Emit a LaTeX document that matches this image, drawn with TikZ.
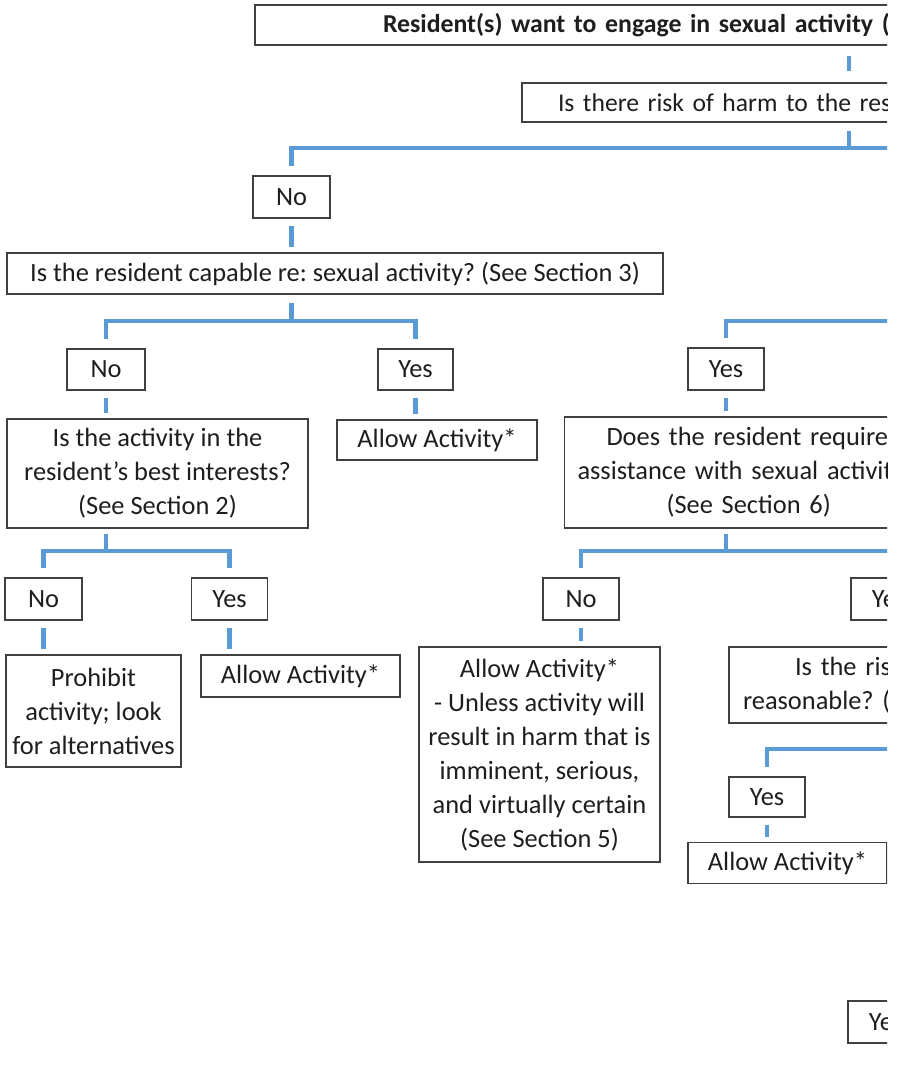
\documentclass[tikz,border=0pt]{standalone}
\usepackage{fontspec}
\setmainfont{Carlito}
\usetikzlibrary{calc}
\definecolor{linkblue}{RGB}{91,155,213}
\definecolor{boxgray}{RGB}{64,64,64}
\definecolor{inkgray}{RGB}{30,30,30}

\begin{document}
\begin{tikzpicture}[x=0.5pt, y=-0.5pt,
    box/.style={draw=boxgray, line width=0.65pt, fill=white, text=inkgray,
      font=\fontsize{13.2}{17}\selectfont\frenchspacing, align=center, inner sep=0pt,
      minimum height=20.5pt},
    cutbox/.style={box, align=left},
    link/.style={draw=linkblue, line width=2.25pt},
    stub/.style={link, shorten <=3.5pt, shorten >=2.5pt}]
    \useasboundingbox (0,0) rectangle (898,1078);
    \begin{scope}
    \clip (0,0) rectangle (887,1078);
    % question chain
    \node[cutbox, text width=594pt, minimum height=20pt,
      font=\fontsize{12.9}{17}\selectfont\frenchspacing\bfseries] (top) at (849,25)
      {\hspace*{64pt}Resident(s) want to engage in sexual activity (};
    \node[cutbox, text width=327pt, minimum height=19.5pt,
      font=\fontsize{12.8}{17}\selectfont\frenchspacing] (risk) at (849,102.5)
      {\hspace*{18pt}Is there risk of harm to the res};
    \node[box, minimum width=38.5pt, minimum height=21pt] (no1) at (291.5,197) {No};
    \node[box, minimum width=328pt] (capable) at (335,273.5)
      {Is the resident capable re: sexual activity? (See Section 3)};
    \node[box, minimum width=39pt] (no2) at (106,369.5) {No};
    \node[box, minimum width=37.5pt] (yes2) at (415.5,369.5) {Yes};
    \node[box, minimum width=150.5pt, minimum height=54.5pt] (interest) at (157.5,473.5)
      {Is the activity in the\\resident’s best interests?\\(See Section 2)};
    \node[box, minimum width=100pt, minimum height=20pt] (allow1) at (437,440) {Allow Activity*};
    \node[box, minimum width=38.5pt, minimum height=21pt] (no3) at (43.5,599) {No};
    \node[box, minimum width=38pt, minimum height=21pt] (yes3) at (229.5,599) {Yes};
    \node[box, minimum width=87.5pt, minimum height=56pt] (prohibit) at (93.5,711)
      {Prohibit\\activity; look\\for alternatives};
    \node[box, minimum width=99.5pt, minimum height=21pt] (allow2) at (300.5,676) {Allow Activity*};
    % right-hand side
    \node[box, minimum width=38pt, minimum height=21pt] (yes4) at (726,369) {Yes};
    \node[cutbox, text width=181pt, minimum height=55.5pt] (assist) at (745.5,472.5)
      {\hspace*{21pt}Does the resident require\\\hspace*{6.5pt}assistance with sexual activit\\\hspace*{51pt}(See Section 6)};
    \node[box, minimum width=38pt, minimum height=21pt] (no5) at (581,599) {No};
    \node[box, minimum width=38pt, minimum height=21pt] (yes5) at (889,599) {Yes};
    \node[box, minimum width=120.5pt, minimum height=107.5pt] (allow4) at (539.5,754.5)
      {Allow Activity*\\- Unless activity will\\result in harm that is\\imminent, serious,\\and virtually certain\\(See Section 5)};
    \node[cutbox, text width=150pt, minimum height=38pt] (reason) at (879,685)
      {\hspace*{33pt}Is the risk\\\hspace*{7pt}reasonable? (};
    \node[box, minimum width=38pt, minimum height=20pt] (yes6) at (767,797) {Yes};
    \node[box, minimum width=99.5pt, minimum height=20.5pt] (allow3) at (787.5,863) {Allow Activity*};
    \node[box, minimum width=38pt, minimum height=21pt] (yes7) at (886,1022) {Yes};

    % branch levels
    \coordinate (edge) at (900,0);
    \coordinate (bar1) at (0,148);
    \coordinate (bar2) at (0,321);
    \coordinate (bar3) at (0,551);
    \coordinate (bar4) at (0,749);

    % connectors
    \draw[stub, shorten <=5pt, shorten >=5.5pt] (top.south) -- (risk.north);
    \draw[link, shorten <=4pt] (risk.south) -- (risk.south |- bar1);
    \draw[link, shorten >=4.5pt] (edge |- bar1) -- (no1.north |- bar1) -- (no1.north);
    \draw[stub] (no1.south) -- (no1.south |- capable.north);
    \draw[link, shorten <=4pt] (no1 |- capable.south) -- (no1 |- bar2);
    \draw[link, shorten <=4.5pt, shorten >=4.5pt] (no2.north) -- (no2.north |- bar2)
      -- (yes2.north |- bar2) -- (yes2.north);
    \draw[stub] (no2.south) -- (no2.south |- interest.north);
    \draw[stub] (yes2.south) -- (yes2.south |- allow1.north);
    \draw[link, shorten <=2.5pt] (no2 |- interest.south) -- (no2 |- bar3);
    \draw[link, shorten <=4.5pt, shorten >=4.5pt] (no3.north) -- (no3.north |- bar3)
      -- (yes3.north |- bar3) -- (yes3.north);
    \draw[stub] (no3.south) -- (no3.south |- prohibit.north);
    \draw[stub] (yes3.south) -- (yes3.south |- allow2.north);
    \draw[link, shorten >=4.5pt] (edge |- bar2) -- (yes4.north |- bar2) -- (yes4.north);
    \draw[stub] (yes4.south) -- (yes4.south |- assist.north);
    \draw[link, shorten <=2.5pt] (yes4 |- assist.south) -- (yes4 |- bar3);
    \draw[link, shorten >=4.5pt] (edge |- bar3) -- (no5.north |- bar3) -- (no5.north);
    \draw[stub] (no5.south) -- (no5.south |- allow4.north);
    \draw[link, shorten >=4.5pt] (edge |- bar4) -- (yes6.north |- bar4) -- (yes6.north);
    \draw[stub] (yes6.south) -- (yes6.south |- allow3.north);
    \end{scope}
\end{tikzpicture}
\end{document}
